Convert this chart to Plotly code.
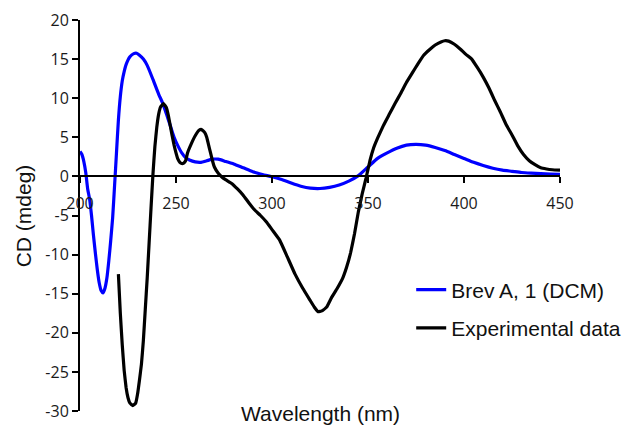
import plotly.graph_objects as go

# Calculated ECD spectrum of Brev A (DCM)
calc_wl = [200, 201, 202, 203, 204, 205, 206, 207, 208, 209, 210, 211, 212, 213, 214,
           215, 216, 217, 218, 219, 220, 221, 222, 223, 224, 226, 228, 229.5, 231, 233,
           235, 238, 241, 243, 245, 247, 249, 251, 253, 255, 257, 260, 263, 266, 269,
           272, 276, 280, 285, 290, 295, 300, 305, 310, 315, 320, 325, 330, 335, 340,
           345, 350, 355, 360, 365, 370, 375, 380, 385, 390, 395, 400, 405, 410, 415,
           420, 425, 430, 435, 440, 445, 450]
calc_cd = [3.2, 2.8, 1.9, 0.5, -1.6, -2.9, -5.0, -7.5, -9.8, -11.9, -13.6, -14.6, -14.9, -14.3, -13.0,
           -10.8, -8.2, -5.3, -1.2, 3.0, 7.2, 10.2, 12.2, 13.4, 14.3, 15.3, 15.7, 15.75, 15.5, 15.0,
           14.2, 12.4, 10.5, 9.4, 8.0, 6.5, 5.0, 3.9, 3.0, 2.4, 2.1, 1.85, 1.8, 2.0, 2.2,
           2.2, 1.9, 1.6, 1.1, 0.6, 0.25, -0.05, -0.4, -0.85, -1.25, -1.5, -1.55, -1.4, -1.1, -0.6,
           0.1, 1.2, 2.3, 3.0, 3.6, 4.0, 4.1, 4.0, 3.7, 3.3, 2.8, 2.3, 1.8, 1.4, 1.05,
           0.8, 0.65, 0.5, 0.42, 0.36, 0.3, 0.25]

# Measured ECD spectrum
exp_wl = [220, 221, 222, 223, 224, 225, 226, 227.5, 229, 230, 231, 232, 233, 234, 235,
          236, 237, 238, 239, 240, 241, 242, 243.5, 245, 246, 247, 248, 249, 250, 251,
          252, 253, 254, 255, 256, 258, 260, 262, 263.3, 265, 266, 267, 268, 269, 270,
          272, 274, 276, 279, 282, 285, 288, 291, 294, 297, 300, 304, 308, 312, 316,
          320, 322, 324, 326, 328.5, 331, 334, 337, 339, 341, 343, 345, 347, 349, 351,
          353, 355, 358, 361, 364, 367, 370, 373, 376, 379, 382, 385, 388, 390, 392,
          395, 398, 401, 404, 407, 410, 413, 416, 419, 422, 425, 428, 431, 434, 437,
          440, 443, 446, 450]
exp_cd = [-12.5, -17.5, -21.5, -24.8, -27.0, -28.3, -29.0, -29.3, -29.0, -27.8, -26.0, -24.0, -21.0, -17.0, -13.0,
          -8.5, -4.0, 0.3, 3.8, 6.3, 8.0, 8.9, 9.3, 8.8, 7.8, 6.5, 5.2, 4.0, 3.0, 2.2,
          1.8, 1.65, 1.7, 2.0, 3.0, 4.2, 5.2, 5.9, 6.0, 5.6, 5.0, 4.0, 3.0, 2.0, 1.2,
          0.4, -0.1, -0.45, -0.9, -1.6, -2.4, -3.4, -4.3, -5.0, -5.8, -6.8, -8.15, -10.3, -12.5, -14.3,
          -15.9, -16.7, -17.3, -17.2, -16.7, -15.5, -14.3, -12.9, -11.5, -9.7, -7.3, -4.5, -2.2, -0.2, 2.0,
          3.7, 4.9, 6.5, 7.9, 9.3, 10.6, 12.0, 13.2, 14.4, 15.5, 16.2, 16.8, 17.2, 17.35, 17.3,
          16.9, 16.3, 15.6, 15.0, 13.9, 12.7, 11.3, 9.7, 8.2, 6.6, 5.3, 3.9, 2.8, 2.0, 1.5,
          1.1, 0.95, 0.85, 0.8]

x_ticks = [200, 250, 300, 350, 400, 450]
x_tick_text = ["200", "250", "300", "350", "400", "450"]
y_ticks = [-30, -25, -20, -15, -10, -5, 0, 5, 10, 15, 20]
y_tick_text = ["-30", "-25", "-20", "-15", "-10", "-5", "0", "5", "10", "15", "20"]

SANS = "Liberation Sans, Arial, sans-serif"
TICK_FONT = dict(family="Open Sans, sans-serif", size=16, color="#1a1a1a")

fig = go.Figure()
fig.add_trace(go.Scatter(
    x=calc_wl, y=calc_cd, mode="lines", name="Brev A, 1 (DCM)",
    line=dict(color="#0000ff", width=3.2, shape="spline", smoothing=0.6),
    legendgroup="a",
))
fig.add_trace(go.Scatter(
    x=exp_wl, y=exp_cd, mode="lines", name="Experimental data",
    line=dict(color="#000000", width=3.2, shape="spline", smoothing=0.3),
    legendgroup="b",
))

y_min, y_max = -30, 20
zero_frac = (0 - y_min) / (y_max - y_min)

fig.update_layout(
    width=627, height=425,
    margin=dict(l=80, r=67, t=20, b=14, autoexpand=False),
    paper_bgcolor="white", plot_bgcolor="white",
    showlegend=True,
    legend=dict(
        x=0.69, y=0.362, xanchor="left", yanchor="top",
        font=dict(family=SANS, size=21, color="#111111"),
        bgcolor="rgba(0,0,0,0)", itemwidth=30,
        traceorder="grouped", tracegroupgap=8,
    ),
    xaxis=dict(
        range=[200, 450], anchor="free", position=zero_frac, automargin=False,
        showline=True, linecolor="#000000", linewidth=2,
        ticks="outside", ticklen=6, tickwidth=2, tickcolor="#000000",
        tickvals=x_ticks, ticktext=x_tick_text, tickfont=TICK_FONT,
        ticklabelstandoff=6,
        showgrid=False, zeroline=False,
    ),
    yaxis=dict(
        range=[y_min, y_max], automargin=False,
        showline=True, linecolor="#000000", linewidth=2,
        ticks="outside", ticklen=6, tickwidth=2, tickcolor="#000000",
        tickvals=y_ticks, ticktext=y_tick_text, tickfont=TICK_FONT,
        showgrid=False, zeroline=False,
    ),
    annotations=[
        dict(text="Wavelength (nm)", xref="paper", yref="paper", x=0.5, y=-0.006,
             xanchor="center", yanchor="middle", showarrow=False,
             font=dict(family=SANS, size=21, color="#111111")),
        dict(text="CD (mdeg)", xref="paper", yref="paper", x=-0.117, y=0.5,
             xanchor="center", yanchor="middle", textangle=-90, showarrow=False,
             font=dict(family=SANS, size=21, color="#111111")),
    ],
)

fig.write_html("out.html")
